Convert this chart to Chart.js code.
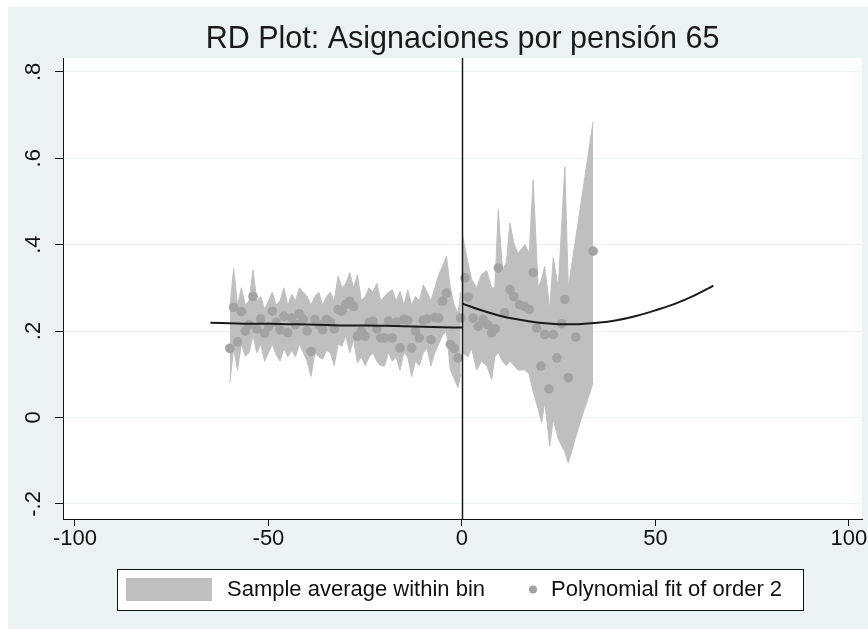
<!DOCTYPE html>
<html>
<head>
<meta charset="utf-8">
<script src="https://cdn.jsdelivr.net/npm/chart.js@4/dist/chart.umd.min.js"></script>
<style>
  body { margin: 0; background: #ffffff; }
  #wrap { width: 868px; height: 629px; }
</style>
</head>
<body>
<div id="wrap"><canvas id="rdChart" width="868" height="629"></canvas></div>
<script>
// bins left of the cutoff: running variable, sample average, CI bounds
const leftX = [-60, -59, -58, -57, -56, -55, -54, -53, -52, -51, -50, -49, -48, -47, -46, -45, -44, -43, -42, -41,
               -40, -39, -38, -37, -36, -35, -34, -33, -32, -31, -30, -29, -28, -27, -26, -25, -24, -23, -22, -21,
               -20, -19, -18, -17, -16, -15, -14, -13, -12, -11, -10, -9, -8, -7, -6, -5, -4, -3, -2, -1, -0.3];
const leftMean = [0.160, 0.255, 0.175, 0.245, 0.200, 0.215, 0.280, 0.205, 0.228, 0.195, 0.210, 0.246, 0.220, 0.203, 0.234, 0.196, 0.230, 0.215, 0.240, 0.227,
                  0.200, 0.153, 0.227, 0.215, 0.203, 0.227, 0.220, 0.205, 0.250, 0.246, 0.262, 0.269, 0.257, 0.188, 0.200, 0.188, 0.220, 0.222, 0.205, 0.184,
                  0.184, 0.223, 0.184, 0.220, 0.161, 0.227, 0.225, 0.161, 0.200, 0.184, 0.225, 0.228, 0.180, 0.231, 0.230, 0.269, 0.288, 0.169, 0.160, 0.138, 0.230];
const leftLo = [0.080, 0.160, 0.110, 0.170, 0.142, 0.150, 0.190, 0.150, 0.170, 0.130, 0.150, 0.170, 0.145, 0.130, 0.160, 0.140, 0.155, 0.140, 0.170, 0.150,
                0.130, 0.095, 0.150, 0.140, 0.135, 0.155, 0.150, 0.120, 0.170, 0.165, 0.190, 0.150, 0.180, 0.126, 0.140, 0.120, 0.140, 0.150, 0.130, 0.120,
                0.119, 0.150, 0.130, 0.140, 0.110, 0.150, 0.140, 0.095, 0.130, 0.120, 0.150, 0.160, 0.119, 0.150, 0.170, 0.190, 0.200, 0.110, 0.090, 0.069, 0.100];
const leftHi = [0.250, 0.345, 0.260, 0.300, 0.260, 0.270, 0.342, 0.270, 0.280, 0.250, 0.270, 0.290, 0.260, 0.270, 0.300, 0.260, 0.285, 0.270, 0.300, 0.290,
                0.280, 0.260, 0.280, 0.290, 0.260, 0.280, 0.290, 0.270, 0.327, 0.300, 0.310, 0.335, 0.300, 0.330, 0.270, 0.280, 0.300, 0.290, 0.310, 0.270,
                0.280, 0.290, 0.295, 0.270, 0.292, 0.260, 0.295, 0.260, 0.280, 0.270, 0.307, 0.290, 0.270, 0.300, 0.330, 0.350, 0.373, 0.300, 0.260, 0.240, 0.290];

// bins right of the cutoff
const rightX = [0.8, 1.6, 2.9, 4.2, 5.5, 6.6, 7.7, 8.6, 9.4, 11.0, 12.4, 13.4, 14.9, 16.2, 17.4, 18.4, 19.3, 20.4, 21.4, 22.5, 23.6, 24.5, 25.8, 26.6, 27.5, 29.4, 33.9];
const rightMean = [0.323, 0.279, 0.230, 0.211, 0.227, 0.215, 0.196, 0.205, 0.346, 0.242, 0.296, 0.280, 0.261, 0.257, 0.250, 0.335, 0.207, 0.119, 0.192, 0.066, 0.192, 0.138, 0.217, 0.273, 0.092, 0.186, 0.385];
const rightBandX = [0.2, 1.5, 2.5, 3.8, 5.0, 6.4, 7.7, 8.5, 9.4, 10.5, 11.5, 12.4, 13.5, 14.5, 15.4, 16.3, 17.4, 18.4, 19.7, 20.6, 21.4, 22.7, 23.6, 24.9, 26.6, 27.5, 30.5, 33.9];
const rightHi = [0.420, 0.360, 0.320, 0.300, 0.330, 0.340, 0.300, 0.300, 0.480, 0.340, 0.360, 0.450, 0.400, 0.380, 0.390, 0.400, 0.380, 0.550, 0.300, 0.320, 0.350, 0.250, 0.370, 0.300, 0.580, 0.300, 0.480, 0.685];
const rightLo = [0.150, 0.140, 0.160, 0.110, 0.130, 0.120, 0.088, 0.140, 0.150, 0.130, 0.120, 0.130, 0.120, 0.110, 0.110, 0.110, 0.100, 0.060, 0.020, -0.012, 0.035, -0.066, -0.005, -0.050, -0.080, -0.105, -0.012, 0.080];

// polynomial fit, order 2, each side
const fitLeftX = [-65, -60, -55, -50, -45, -40, -35, -30, -25, -20, -15, -10, -5, 0];
const fitLeftY = [0.219, 0.218, 0.217, 0.217, 0.216, 0.215, 0.214, 0.213, 0.213, 0.212, 0.211, 0.210, 0.209, 0.208];
const fitRightX = [0, 5, 10, 15, 20, 25, 30, 35, 40, 45, 50, 55, 60, 65];
const fitRightY = [0.264, 0.248, 0.235, 0.226, 0.219, 0.216, 0.216, 0.219, 0.225, 0.235, 0.248, 0.263, 0.282, 0.305];

const cutoff = 0;
const xTicks = [-100, -50, 0, 50, 100];
const yTicks = [-0.2, 0, 0.2, 0.4, 0.6, 0.8];
const yTickLabels = ["-.2", "0", ".2", ".4", ".6", ".8"];
const titleText = "RD Plot: Asignaciones por pensión 65";
const legendLabels = ["Sample average within bin", "Polynomial fit of order 2"];

const bandColor = "#bfbfbf";
const dotColor = "#a3a3a3";
const regionColor = "#eaf2f3";

function pts(xs, ys) {
    return xs.map((x, i) => ({ x: x, y: ys[i] }));
}

Chart.defaults.font.family = "'Liberation Sans', Arial, sans-serif";
Chart.defaults.color = "#111111";

const backdrop = {
    id: "backdrop",
    beforeDraw(chart) {
        const ctx = chart.ctx;
        const a = chart.chartArea;
        ctx.save();
        ctx.fillStyle = "#ffffff";
        ctx.fillRect(0, 0, chart.width, chart.height);
        ctx.fillStyle = regionColor;
        ctx.fillRect(8, 7, chart.width - 8, chart.height - 7);
        ctx.fillStyle = "#ffffff";
        ctx.fillRect(a.left, a.top, a.right - a.left, a.bottom - a.top);
        ctx.restore();
    }
};

const cutoffLine = {
    id: "cutoffLine",
    afterDatasetsDraw(chart) {
        const ctx = chart.ctx;
        const a = chart.chartArea;
        const px = Math.round(chart.scales.x.getPixelForValue(cutoff)) + 0.5;
        ctx.save();
        ctx.strokeStyle = "#1a1a1a";
        ctx.lineWidth = 1.5;
        ctx.beginPath();
        ctx.moveTo(px, a.top);
        ctx.lineTo(px, a.bottom);
        ctx.stroke();
        ctx.restore();
    }
};

// title centred over the plot region, legend in a framed box below the axis
const titleAndLegend = {
    id: "titleAndLegend",
    afterDraw(chart) {
        const ctx = chart.ctx;
        const a = chart.chartArea;
        ctx.save();
        ctx.fillStyle = "#1a1a1a";
        ctx.font = "30.5px 'Liberation Sans', Arial, sans-serif";
        ctx.textAlign = "center";
        ctx.textBaseline = "middle";
        ctx.fillText(titleText, (a.left + a.right) / 2, 40);

        ctx.textAlign = "left";
        ctx.fillStyle = "#ffffff";
        ctx.fillRect(117, 569, 686, 41);
        ctx.strokeStyle = "#111111";
        ctx.lineWidth = 1;
        ctx.strokeRect(117.5, 569.5, 686, 41);
        ctx.fillStyle = bandColor;
        ctx.fillRect(126, 578, 86, 23);
        ctx.fillStyle = dotColor;
        ctx.beginPath();
        ctx.arc(533, 589.5, 4, 0, Math.PI * 2);
        ctx.fill();
        ctx.fillStyle = "#111111";
        ctx.font = "22px 'Liberation Sans', Arial, sans-serif";
        ctx.fillText(legendLabels[0], 227, 590);
        ctx.fillText(legendLabels[1], 551, 590);
        ctx.restore();
    }
};

new Chart(document.getElementById("rdChart"), {
    type: "line",
    data: {
        datasets: [
            { data: pts(fitLeftX, fitLeftY), borderColor: "#1a1a1a", borderWidth: 2, pointRadius: 0, tension: 0.4, order: 0 },
            { data: pts(fitRightX, fitRightY), borderColor: "#1a1a1a", borderWidth: 2, pointRadius: 0, tension: 0.4, order: 0 },
            { data: pts(leftX, leftMean), showLine: false, pointRadius: 4.8, pointBackgroundColor: dotColor, pointBorderWidth: 0, order: 1 },
            { data: pts(rightX, rightMean), showLine: false, pointRadius: 4.8, pointBackgroundColor: dotColor, pointBorderWidth: 0, order: 1 },
            { data: pts(leftX, leftHi), borderColor: bandColor, borderWidth: 1, pointRadius: 0, order: 2 },
            { data: pts(leftX, leftLo), borderColor: bandColor, borderWidth: 1, pointRadius: 0, backgroundColor: bandColor, fill: "-1", order: 2 },
            { data: pts(rightBandX, rightHi), borderColor: bandColor, borderWidth: 1, pointRadius: 0, order: 2 },
            { data: pts(rightBandX, rightLo), borderColor: bandColor, borderWidth: 1, pointRadius: 0, backgroundColor: bandColor, fill: "-1", order: 2 }
        ]
    },
    options: {
        responsive: false,
        animation: false,
        devicePixelRatio: 1,
        layout: { padding: { left: 0, right: 6, top: 58, bottom: 0 } },
        plugins: {
            legend: { display: false },
            tooltip: { enabled: false },
            title: { display: false }
        },
        scales: {
            x: {
                type: "linear",
                min: -103.1,
                max: 103.4,
                afterBuildTicks: s => { s.ticks = xTicks.map(v => ({ value: v })); },
                afterFit: s => { s.height = 110; },
                grid: { drawOnChartArea: false, tickLength: 7, tickColor: "#111111" },
                border: { color: "#111111", width: 1 },
                ticks: { font: { size: 22 }, padding: 0, maxRotation: 0, color: "#111111" }
            },
            y: {
                min: -0.235,
                max: 0.832,
                afterBuildTicks: s => { s.ticks = yTicks.map(v => ({ value: v })); },
                afterFit: s => { s.width = 63; },
                grid: { color: regionColor, lineWidth: 1, tickLength: 8, tickColor: "#111111" },
                border: { color: "#111111", width: 1 },
                ticks: {
                    font: { size: 22 },
                    padding: 8,
                    minRotation: 90,
                    maxRotation: 90,
                    crossAlign: "center",
                    color: "#111111",
                    callback: (v, i) => yTickLabels[i]
                }
            }
        }
    },
    plugins: [backdrop, cutoffLine, titleAndLegend]
});
</script>
</body>
</html>
